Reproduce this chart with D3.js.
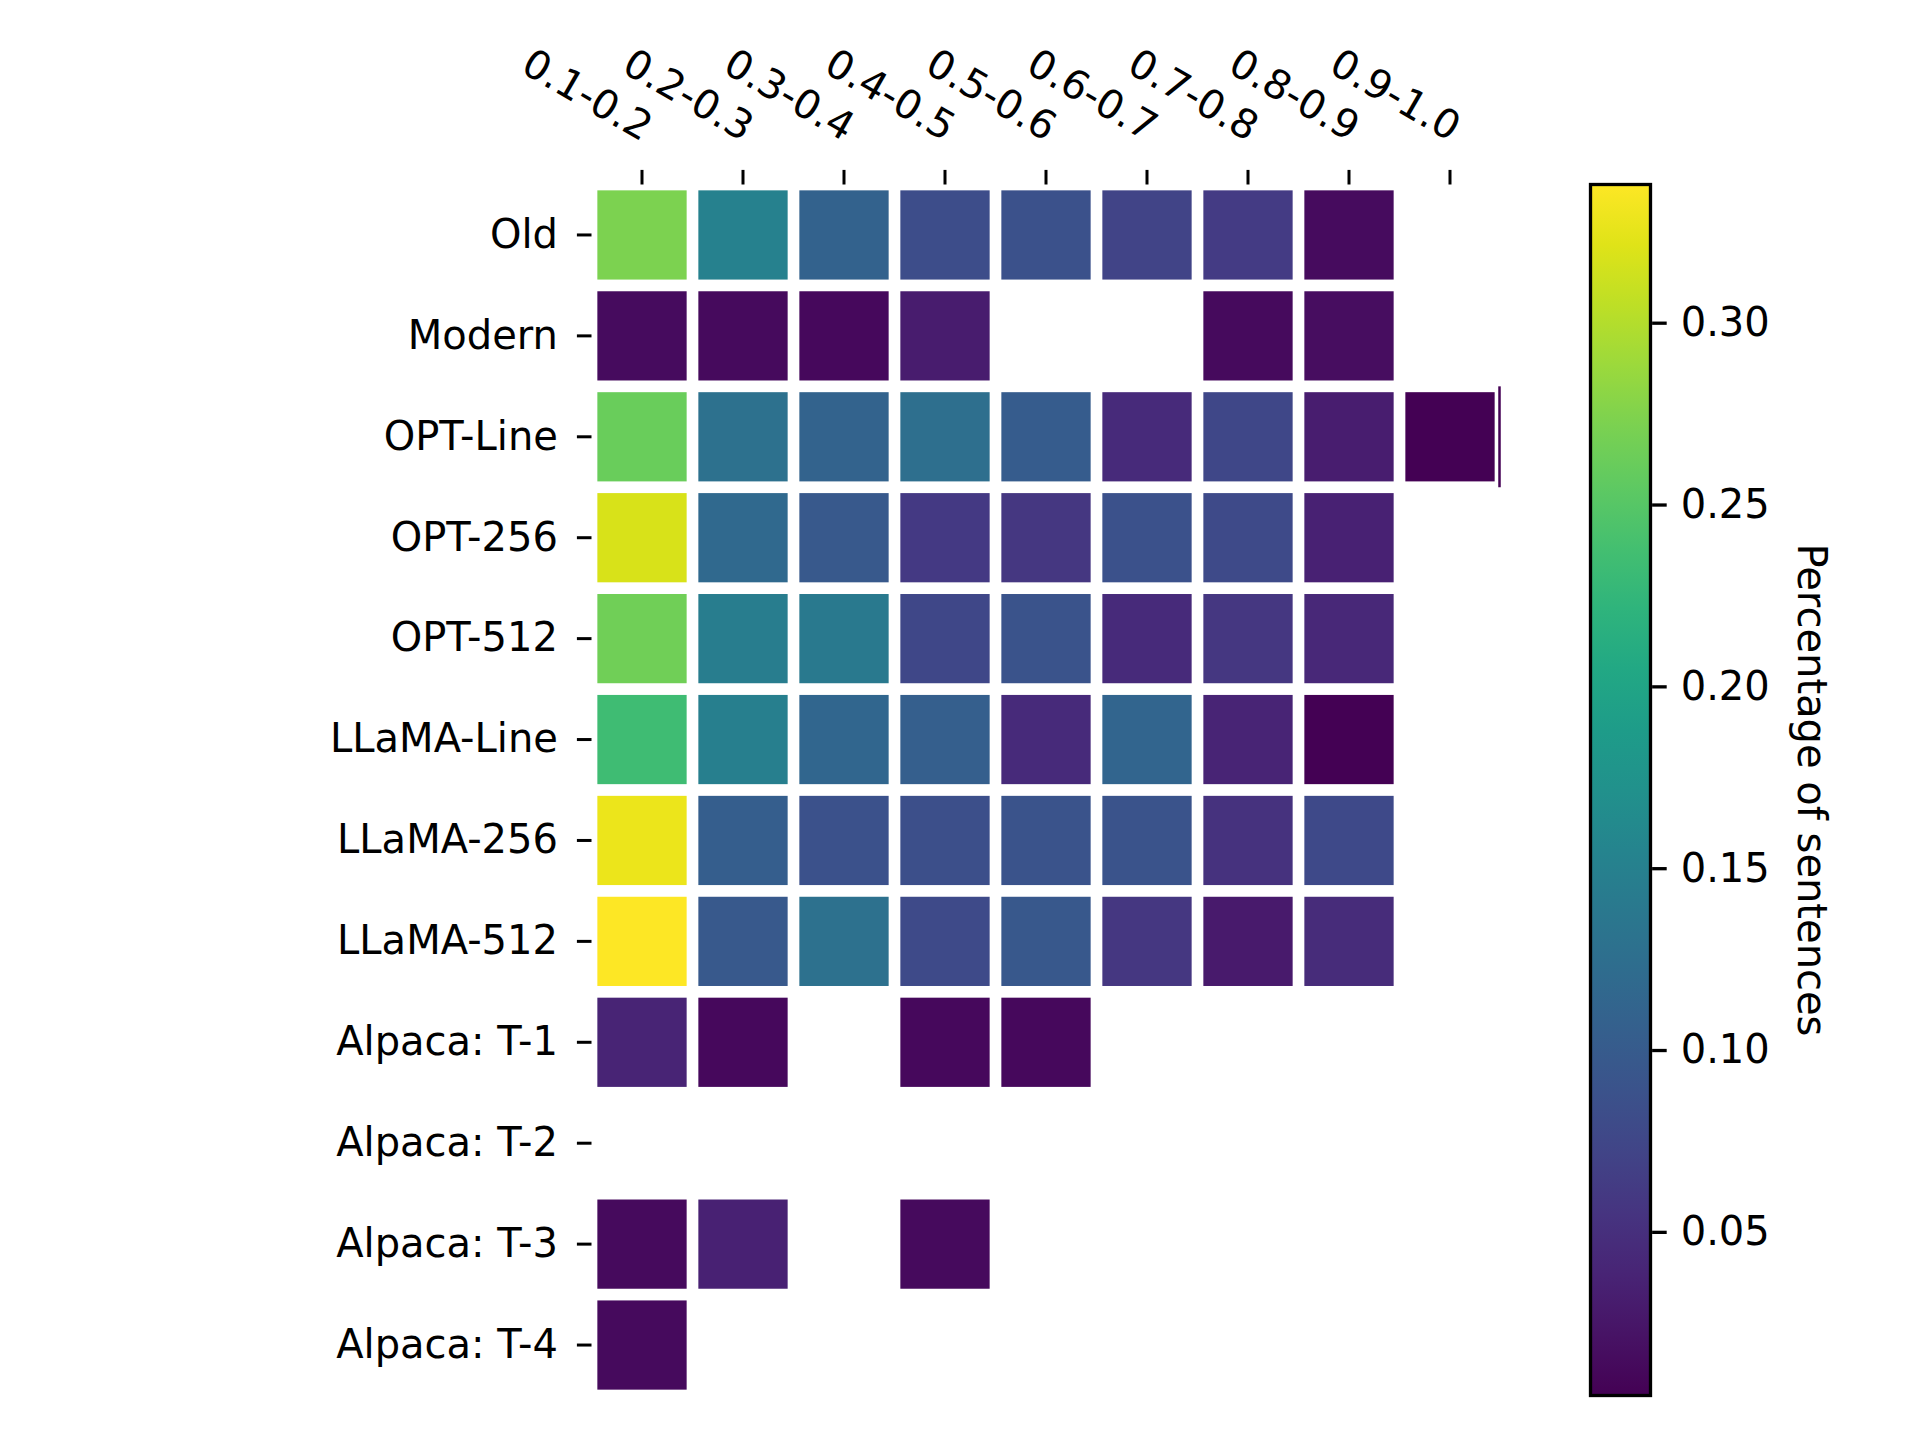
<!DOCTYPE html>
<html>
<head>
<meta charset="utf-8">
<script src="https://cdn.jsdelivr.net/npm/d3@7"></script>
<style>
    body { margin: 0; background: #fff; }
    #chart-container { width: 1920px; height: 1440px; }
    text { font-family: "DejaVu Sans", sans-serif; fill: #000; }
</style>
</head>
<body>
<div id="chart-container"></div>
<script>
// Categories
const rowLabels = ['Old', 'Modern', 'OPT-Line', 'OPT-256', 'OPT-512', 'LLaMA-Line',
    'LLaMA-256', 'LLaMA-512', 'Alpaca: T-1', 'Alpaca: T-2', 'Alpaca: T-3', 'Alpaca: T-4'];
const colLabels = ['0.1-0.2', '0.2-0.3', '0.3-0.4', '0.4-0.5', '0.5-0.6',
    '0.6-0.7', '0.7-0.8', '0.8-0.9', '0.9-1.0'];

// Share of sentences per bin (null = no cell)
const oldValues       = [0.272, 0.150, 0.108, 0.083, 0.088, 0.072, 0.063, 0.015, null];
const modernValues    = [0.015, 0.013, 0.012, 0.030, null, null, 0.014, 0.016, null];
const optLineValues   = [0.262, 0.128, 0.110, 0.125, 0.100, 0.045, 0.076, 0.032, 0.005];
const opt256Values    = [0.318, 0.118, 0.097, 0.060, 0.058, 0.088, 0.080, 0.035, null];
const opt512Values    = [0.266, 0.145, 0.140, 0.076, 0.090, 0.045, 0.058, 0.042, null];
const llamaLineValues = [0.234, 0.147, 0.113, 0.104, 0.045, 0.112, 0.038, 0.005, null];
const llama256Values  = [0.328, 0.103, 0.087, 0.085, 0.090, 0.090, 0.052, 0.078, null];
const llama512Values  = [0.338, 0.097, 0.128, 0.080, 0.095, 0.058, 0.028, 0.046, null];
const alpacaT1Values  = [0.038, 0.012, null, 0.012, 0.012, null, null, null, null];
const alpacaT2Values  = [null, null, null, null, null, null, null, null, null];
const alpacaT3Values  = [0.013, 0.035, null, 0.013, null, null, null, null, null];
const alpacaT4Values  = [0.014, null, null, null, null, null, null, null, null];

const colorbarTicks = [0.05, 0.10, 0.15, 0.20, 0.25, 0.30];
const colorbarTitle = 'Percentage of sentences';

const matrix = [oldValues, modernValues, optLineValues, opt256Values, opt512Values,
    llamaLineValues, llama256Values, llama512Values, alpacaT1Values, alpacaT2Values,
    alpacaT3Values, alpacaT4Values];

// Flatten into cells
const cells = [];
matrix.forEach((row, i) => {
    row.forEach((v, j) => {
        if (v !== null) cells.push({ row: rowLabels[i], col: colLabels[j], value: v });
    });
});

const width = 1920, height = 1440;
const fontSize = 40;
const gridLine = 11.7;       // white separator between cells
const tickLen = 14.6;

const svg = d3.select('#chart-container')
    .append('svg')
    .attr('width', width)
    .attr('height', height);

// Scales
const x = d3.scaleBand().domain(colLabels).range([591.5, 1500.5]);
const y = d3.scaleBand().domain(rowLabels).range([184.5, 1395.5]);
const vmin = 0.005, vmax = 0.338;
const color = d3.scaleSequential(d3.interpolateViridis).domain([vmin, vmax]);

// Heatmap cells
svg.append('g')
    .selectAll('rect')
    .data(cells)
    .enter()
    .append('rect')
    .attr('x', d => x(d.col) + gridLine / 2)
    .attr('y', d => y(d.row) + gridLine / 2)
    .attr('width', x.bandwidth() - gridLine)
    .attr('height', y.bandwidth() - gridLine)
    .attr('fill', d => color(d.value));

// Cells touching the right edge keep a thin sliver of their colour
svg.append('g')
    .selectAll('line')
    .data(cells.filter(d => d.col === colLabels[colLabels.length - 1]))
    .enter()
    .append('line')
    .attr('x1', x.range()[1] - 1)
    .attr('x2', x.range()[1] - 1)
    .attr('y1', d => y(d.row))
    .attr('y2', d => y(d.row) + y.bandwidth())
    .attr('stroke', d => color(d.value))
    .attr('stroke-width', 2.5);

// Top axis with rotated labels
const xAxis = svg.append('g')
    .attr('transform', `translate(0,${y.range()[0]})`)
    .call(d3.axisTop(x).tickSize(tickLen));
xAxis.select('.domain').remove();
xAxis.selectAll('line').attr('stroke', '#000').attr('stroke-width', 3);
xAxis.selectAll('text')
    .attr('y', null)
    .attr('dy', null)
    .attr('text-anchor', 'end')
    .attr('transform', 'translate(0,-42.5) rotate(30)')
    .style('font-size', `${fontSize}px`);

// Left axis
const yAxis = svg.append('g')
    .attr('transform', `translate(${x.range()[0]},0)`)
    .call(d3.axisLeft(y).tickSize(tickLen).tickPadding(19));
yAxis.select('.domain').remove();
yAxis.selectAll('line').attr('stroke', '#000').attr('stroke-width', 3);
yAxis.selectAll('text').style('font-size', `${fontSize}px`);

// Colorbar
const cbX = 1590.5, cbW = 60;
const cbScale = d3.scaleLinear().domain([vmin, vmax]).range([y.range()[1], y.range()[0]]);

const defs = svg.append('defs');
const grad = defs.append('linearGradient')
    .attr('id', 'viridis-grad')
    .attr('x1', 0).attr('y1', 1)
    .attr('x2', 0).attr('y2', 0);
d3.range(0, 1.0001, 0.05).forEach(t => {
    grad.append('stop')
        .attr('offset', `${t * 100}%`)
        .attr('stop-color', d3.interpolateViridis(t));
});

svg.append('rect')
    .attr('x', cbX)
    .attr('y', y.range()[0])
    .attr('width', cbW)
    .attr('height', y.range()[1] - y.range()[0])
    .attr('fill', 'url(#viridis-grad)')
    .attr('stroke', '#000')
    .attr('stroke-width', 3.3);

const cbAxis = svg.append('g')
    .attr('transform', `translate(${cbX + cbW + 1.6},0)`)
    .call(d3.axisRight(cbScale)
        .tickValues(colorbarTicks)
        .tickFormat(d3.format('.2f'))
        .tickSize(tickLen)
        .tickPadding(14));
cbAxis.select('.domain').remove();
cbAxis.selectAll('line').attr('stroke', '#000').attr('stroke-width', 3.3);
cbAxis.selectAll('text').style('font-size', `${fontSize}px`);

// Colorbar title, reading top to bottom
svg.append('text')
    .attr('transform', `translate(1798,${(y.range()[0] + y.range()[1]) / 2}) rotate(90)`)
    .attr('text-anchor', 'middle')
    .style('font-size', `${fontSize}px`)
    .text(colorbarTitle);
</script>
</body>
</html>
